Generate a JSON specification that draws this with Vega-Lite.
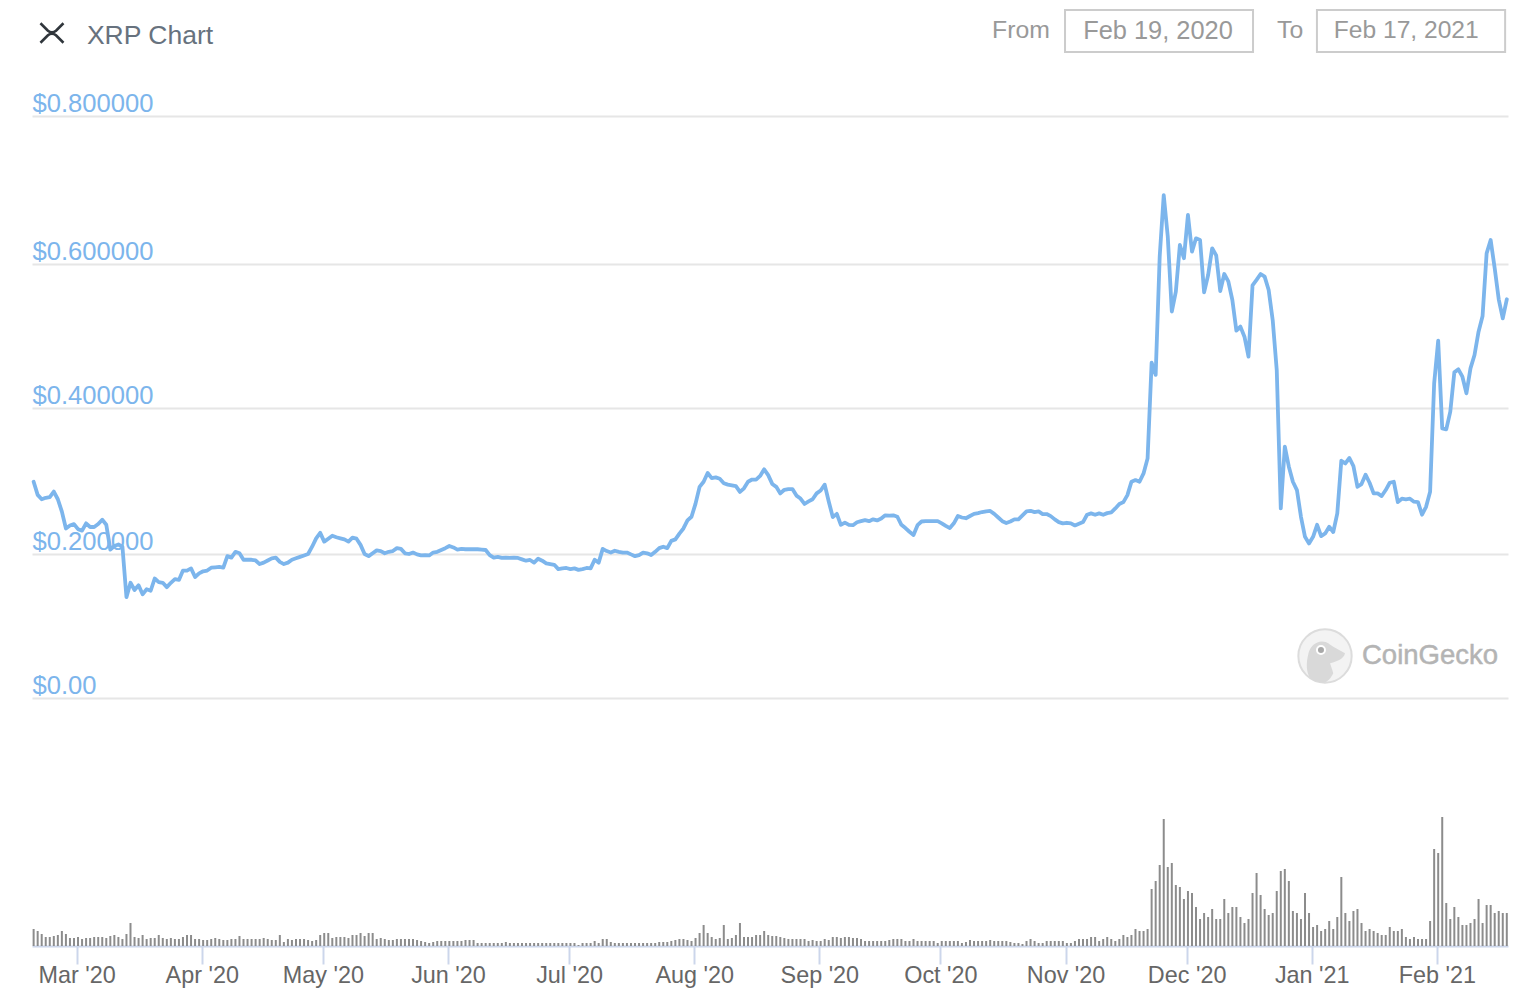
{"$schema":"https://vega.github.io/schema/vega-lite/v6.json","width":1476,"height":946,"autosize":"none","padding":{"left":32,"top":0,"right":30,"bottom":52},"background":"white","config":{"view":{"stroke":null},"font":"Liberation Sans","scale":{"continuousPadding":0}},
"data":{"values":[
{"date":"2020-02-19T08:00Z","price":0.299,"volume":17},{"date":"2020-02-20T08:00Z","price":0.281,"volume":15},{"date":"2020-02-21T08:00Z","price":0.275,"volume":12},{"date":"2020-02-22T08:00Z","price":0.277,"volume":9},{"date":"2020-02-23T08:00Z","price":0.278,"volume":9},{"date":"2020-02-24T08:00Z","price":0.2855,"volume":10},{"date":"2020-02-25T08:00Z","price":0.275,"volume":11},{"date":"2020-02-26T08:00Z","price":0.258,"volume":15},{"date":"2020-02-27T08:00Z","price":0.235,"volume":12},{"date":"2020-02-28T08:00Z","price":0.239,"volume":8},{"date":"2020-02-29T08:00Z","price":0.241,"volume":8},
{"date":"2020-03-01T08:00Z","price":0.234,"volume":9},{"date":"2020-03-02T08:00Z","price":0.232,"volume":7},{"date":"2020-03-03T08:00Z","price":0.242,"volume":8},{"date":"2020-03-04T08:00Z","price":0.237,"volume":8},{"date":"2020-03-05T08:00Z","price":0.237,"volume":9},{"date":"2020-03-06T08:00Z","price":0.241,"volume":9},{"date":"2020-03-07T08:00Z","price":0.247,"volume":9},{"date":"2020-03-08T08:00Z","price":0.24,"volume":8},{"date":"2020-03-09T08:00Z","price":0.206,"volume":10},{"date":"2020-03-10T08:00Z","price":0.211,"volume":11},{"date":"2020-03-11T08:00Z","price":0.213,"volume":9},{"date":"2020-03-12T08:00Z","price":0.21,"volume":7},{"date":"2020-03-13T08:00Z","price":0.14,"volume":12},{"date":"2020-03-14T08:00Z","price":0.16,"volume":23},{"date":"2020-03-15T08:00Z","price":0.15,"volume":9},{"date":"2020-03-16T08:00Z","price":0.1565,"volume":8},{"date":"2020-03-17T08:00Z","price":0.144,"volume":11},{"date":"2020-03-18T08:00Z","price":0.151,"volume":7},{"date":"2020-03-19T08:00Z","price":0.149,"volume":8},{"date":"2020-03-20T08:00Z","price":0.166,"volume":8},{"date":"2020-03-21T08:00Z","price":0.161,"volume":11},{"date":"2020-03-22T08:00Z","price":0.16,"volume":8},{"date":"2020-03-23T08:00Z","price":0.154,"volume":7},{"date":"2020-03-24T08:00Z","price":0.16,"volume":8},{"date":"2020-03-25T08:00Z","price":0.165,"volume":7},{"date":"2020-03-26T08:00Z","price":0.164,"volume":7},{"date":"2020-03-27T08:00Z","price":0.177,"volume":9},{"date":"2020-03-28T08:00Z","price":0.177,"volume":11},{"date":"2020-03-29T08:00Z","price":0.18,"volume":11},{"date":"2020-03-30T08:00Z","price":0.168,"volume":7},{"date":"2020-03-31T08:00Z","price":0.173,"volume":7},
{"date":"2020-04-01T08:00Z","price":0.176,"volume":6},{"date":"2020-04-02T08:00Z","price":0.177,"volume":6},{"date":"2020-04-03T08:00Z","price":0.181,"volume":7},{"date":"2020-04-04T08:00Z","price":0.1815,"volume":8},{"date":"2020-04-05T08:00Z","price":0.182,"volume":7},{"date":"2020-04-06T08:00Z","price":0.181,"volume":6},{"date":"2020-04-07T08:00Z","price":0.197,"volume":6},{"date":"2020-04-08T08:00Z","price":0.195,"volume":7},{"date":"2020-04-09T08:00Z","price":0.203,"volume":7},{"date":"2020-04-10T08:00Z","price":0.201,"volume":10},{"date":"2020-04-11T08:00Z","price":0.192,"volume":7},{"date":"2020-04-12T08:00Z","price":0.192,"volume":7},{"date":"2020-04-13T08:00Z","price":0.192,"volume":7},{"date":"2020-04-14T08:00Z","price":0.191,"volume":7},{"date":"2020-04-15T08:00Z","price":0.186,"volume":7},{"date":"2020-04-16T08:00Z","price":0.188,"volume":8},{"date":"2020-04-17T08:00Z","price":0.191,"volume":7},{"date":"2020-04-18T08:00Z","price":0.194,"volume":6},{"date":"2020-04-19T08:00Z","price":0.195,"volume":6},{"date":"2020-04-20T08:00Z","price":0.189,"volume":11},{"date":"2020-04-21T08:00Z","price":0.186,"volume":4},{"date":"2020-04-22T08:00Z","price":0.188,"volume":7},{"date":"2020-04-23T08:00Z","price":0.192,"volume":6},{"date":"2020-04-24T08:00Z","price":0.194,"volume":7},{"date":"2020-04-25T08:00Z","price":0.196,"volume":7},{"date":"2020-04-26T08:00Z","price":0.198,"volume":7},{"date":"2020-04-27T08:00Z","price":0.2,"volume":6},{"date":"2020-04-28T08:00Z","price":0.21,"volume":5},{"date":"2020-04-29T08:00Z","price":0.2215,"volume":6},{"date":"2020-04-30T08:00Z","price":0.229,"volume":11},
{"date":"2020-05-01T08:00Z","price":0.217,"volume":13},{"date":"2020-05-02T08:00Z","price":0.221,"volume":13},{"date":"2020-05-03T08:00Z","price":0.225,"volume":8},{"date":"2020-05-04T08:00Z","price":0.223,"volume":9},{"date":"2020-05-05T08:00Z","price":0.2215,"volume":9},{"date":"2020-05-06T08:00Z","price":0.22,"volume":9},{"date":"2020-05-07T08:00Z","price":0.217,"volume":8},{"date":"2020-05-08T08:00Z","price":0.2225,"volume":11},{"date":"2020-05-09T08:00Z","price":0.221,"volume":11},{"date":"2020-05-10T08:00Z","price":0.2125,"volume":13},{"date":"2020-05-11T08:00Z","price":0.2,"volume":10},{"date":"2020-05-12T08:00Z","price":0.197,"volume":13},{"date":"2020-05-13T08:00Z","price":0.201,"volume":13},{"date":"2020-05-14T08:00Z","price":0.205,"volume":7},{"date":"2020-05-15T08:00Z","price":0.204,"volume":8},{"date":"2020-05-16T08:00Z","price":0.201,"volume":7},{"date":"2020-05-17T08:00Z","price":0.203,"volume":6},{"date":"2020-05-18T08:00Z","price":0.204,"volume":6},{"date":"2020-05-19T08:00Z","price":0.208,"volume":7},{"date":"2020-05-20T08:00Z","price":0.207,"volume":7},{"date":"2020-05-21T08:00Z","price":0.201,"volume":7},{"date":"2020-05-22T08:00Z","price":0.2,"volume":7},{"date":"2020-05-23T08:00Z","price":0.202,"volume":7},{"date":"2020-05-24T08:00Z","price":0.1995,"volume":6},{"date":"2020-05-25T08:00Z","price":0.198,"volume":5},{"date":"2020-05-26T08:00Z","price":0.1985,"volume":4},{"date":"2020-05-27T08:00Z","price":0.198,"volume":3},{"date":"2020-05-28T08:00Z","price":0.202,"volume":4},{"date":"2020-05-29T08:00Z","price":0.203,"volume":5},{"date":"2020-05-30T08:00Z","price":0.2055,"volume":5},{"date":"2020-05-31T08:00Z","price":0.208,"volume":5},
{"date":"2020-06-01T08:00Z","price":0.211,"volume":5},{"date":"2020-06-02T08:00Z","price":0.209,"volume":5},{"date":"2020-06-03T08:00Z","price":0.206,"volume":5},{"date":"2020-06-04T08:00Z","price":0.207,"volume":5},{"date":"2020-06-05T08:00Z","price":0.2065,"volume":6},{"date":"2020-06-06T08:00Z","price":0.2065,"volume":6},{"date":"2020-06-07T08:00Z","price":0.2065,"volume":6},{"date":"2020-06-08T08:00Z","price":0.2065,"volume":3},{"date":"2020-06-09T08:00Z","price":0.206,"volume":3},{"date":"2020-06-10T08:00Z","price":0.2055,"volume":3},{"date":"2020-06-11T08:00Z","price":0.1985,"volume":3},{"date":"2020-06-12T08:00Z","price":0.195,"volume":3},{"date":"2020-06-13T08:00Z","price":0.196,"volume":3},{"date":"2020-06-14T08:00Z","price":0.1945,"volume":3},{"date":"2020-06-15T08:00Z","price":0.195,"volume":4},{"date":"2020-06-16T08:00Z","price":0.1945,"volume":3},{"date":"2020-06-17T08:00Z","price":0.195,"volume":3},{"date":"2020-06-18T08:00Z","price":0.1945,"volume":3},{"date":"2020-06-19T08:00Z","price":0.1926,"volume":3},{"date":"2020-06-20T08:00Z","price":0.1907,"volume":3},{"date":"2020-06-21T08:00Z","price":0.1917,"volume":3},{"date":"2020-06-22T08:00Z","price":0.188,"volume":3},{"date":"2020-06-23T08:00Z","price":0.1935,"volume":3},{"date":"2020-06-24T08:00Z","price":0.1907,"volume":3},{"date":"2020-06-25T08:00Z","price":0.187,"volume":3},{"date":"2020-06-26T08:00Z","price":0.186,"volume":3},{"date":"2020-06-27T08:00Z","price":0.185,"volume":3},{"date":"2020-06-28T08:00Z","price":0.179,"volume":3},{"date":"2020-06-29T08:00Z","price":0.18,"volume":3},{"date":"2020-06-30T08:00Z","price":0.1806,"volume":3},
{"date":"2020-07-01T08:00Z","price":0.179,"volume":3},{"date":"2020-07-02T08:00Z","price":0.18,"volume":3},{"date":"2020-07-03T08:00Z","price":0.178,"volume":1},{"date":"2020-07-04T08:00Z","price":0.179,"volume":3},{"date":"2020-07-05T08:00Z","price":0.1806,"volume":3},{"date":"2020-07-06T08:00Z","price":0.18,"volume":3},{"date":"2020-07-07T08:00Z","price":0.192,"volume":5},{"date":"2020-07-08T08:00Z","price":0.188,"volume":3},{"date":"2020-07-09T08:00Z","price":0.207,"volume":7},{"date":"2020-07-10T08:00Z","price":0.204,"volume":7},{"date":"2020-07-11T08:00Z","price":0.202,"volume":4},{"date":"2020-07-12T08:00Z","price":0.2045,"volume":3},{"date":"2020-07-13T08:00Z","price":0.203,"volume":3},{"date":"2020-07-14T08:00Z","price":0.202,"volume":3},{"date":"2020-07-15T08:00Z","price":0.202,"volume":3},{"date":"2020-07-16T08:00Z","price":0.1995,"volume":3},{"date":"2020-07-17T08:00Z","price":0.197,"volume":3},{"date":"2020-07-18T08:00Z","price":0.1985,"volume":3},{"date":"2020-07-19T08:00Z","price":0.202,"volume":3},{"date":"2020-07-20T08:00Z","price":0.201,"volume":3},{"date":"2020-07-21T08:00Z","price":0.1985,"volume":3},{"date":"2020-07-22T08:00Z","price":0.203,"volume":3},{"date":"2020-07-23T08:00Z","price":0.208,"volume":4},{"date":"2020-07-24T08:00Z","price":0.21,"volume":4},{"date":"2020-07-25T08:00Z","price":0.208,"volume":4},{"date":"2020-07-26T08:00Z","price":0.218,"volume":5},{"date":"2020-07-27T08:00Z","price":0.22,"volume":6},{"date":"2020-07-28T08:00Z","price":0.228,"volume":7},{"date":"2020-07-29T08:00Z","price":0.235,"volume":7},{"date":"2020-07-30T08:00Z","price":0.246,"volume":6},{"date":"2020-07-31T08:00Z","price":0.251,"volume":5},
{"date":"2020-08-01T08:00Z","price":0.269,"volume":8},{"date":"2020-08-02T08:00Z","price":0.292,"volume":13},{"date":"2020-08-03T08:00Z","price":0.299,"volume":21},{"date":"2020-08-04T08:00Z","price":0.311,"volume":13},{"date":"2020-08-05T08:00Z","price":0.304,"volume":9},{"date":"2020-08-06T08:00Z","price":0.305,"volume":7},{"date":"2020-08-07T08:00Z","price":0.303,"volume":8},{"date":"2020-08-08T08:00Z","price":0.297,"volume":21},{"date":"2020-08-09T08:00Z","price":0.295,"volume":7},{"date":"2020-08-10T08:00Z","price":0.294,"volume":8},{"date":"2020-08-11T08:00Z","price":0.293,"volume":11},{"date":"2020-08-12T08:00Z","price":0.285,"volume":23},{"date":"2020-08-13T08:00Z","price":0.29,"volume":9},{"date":"2020-08-14T08:00Z","price":0.299,"volume":9},{"date":"2020-08-15T08:00Z","price":0.302,"volume":9},{"date":"2020-08-16T08:00Z","price":0.302,"volume":11},{"date":"2020-08-17T08:00Z","price":0.307,"volume":11},{"date":"2020-08-18T08:00Z","price":0.316,"volume":15},{"date":"2020-08-19T08:00Z","price":0.308,"volume":11},{"date":"2020-08-20T08:00Z","price":0.296,"volume":10},{"date":"2020-08-21T08:00Z","price":0.292,"volume":10},{"date":"2020-08-22T08:00Z","price":0.283,"volume":9},{"date":"2020-08-23T08:00Z","price":0.288,"volume":8},{"date":"2020-08-24T08:00Z","price":0.289,"volume":7},{"date":"2020-08-25T08:00Z","price":0.289,"volume":7},{"date":"2020-08-26T08:00Z","price":0.28,"volume":7},{"date":"2020-08-27T08:00Z","price":0.276,"volume":7},{"date":"2020-08-28T08:00Z","price":0.2685,"volume":7},{"date":"2020-08-29T08:00Z","price":0.272,"volume":5},{"date":"2020-08-30T08:00Z","price":0.275,"volume":6},{"date":"2020-08-31T08:00Z","price":0.283,"volume":5},
{"date":"2020-09-01T08:00Z","price":0.287,"volume":5},{"date":"2020-09-02T08:00Z","price":0.295,"volume":7},{"date":"2020-09-03T08:00Z","price":0.272,"volume":6},{"date":"2020-09-04T08:00Z","price":0.2505,"volume":9},{"date":"2020-09-05T08:00Z","price":0.255,"volume":9},{"date":"2020-09-06T08:00Z","price":0.24,"volume":8},{"date":"2020-09-07T08:00Z","price":0.243,"volume":9},{"date":"2020-09-08T08:00Z","price":0.24,"volume":9},{"date":"2020-09-09T08:00Z","price":0.2395,"volume":8},{"date":"2020-09-10T08:00Z","price":0.2435,"volume":8},{"date":"2020-09-11T08:00Z","price":0.245,"volume":7},{"date":"2020-09-12T08:00Z","price":0.2465,"volume":5},{"date":"2020-09-13T08:00Z","price":0.245,"volume":5},{"date":"2020-09-14T08:00Z","price":0.2475,"volume":5},{"date":"2020-09-15T08:00Z","price":0.246,"volume":5},{"date":"2020-09-16T08:00Z","price":0.2485,"volume":5},{"date":"2020-09-17T08:00Z","price":0.253,"volume":5},{"date":"2020-09-18T08:00Z","price":0.2525,"volume":6},{"date":"2020-09-19T08:00Z","price":0.253,"volume":7},{"date":"2020-09-20T08:00Z","price":0.251,"volume":7},{"date":"2020-09-21T08:00Z","price":0.24,"volume":7},{"date":"2020-09-22T08:00Z","price":0.2355,"volume":5},{"date":"2020-09-23T08:00Z","price":0.2305,"volume":5},{"date":"2020-09-24T08:00Z","price":0.226,"volume":7},{"date":"2020-09-25T08:00Z","price":0.2395,"volume":5},{"date":"2020-09-26T08:00Z","price":0.2445,"volume":5},{"date":"2020-09-27T08:00Z","price":0.245,"volume":5},{"date":"2020-09-28T08:00Z","price":0.245,"volume":5},{"date":"2020-09-29T08:00Z","price":0.245,"volume":5},{"date":"2020-09-30T08:00Z","price":0.245,"volume":3},
{"date":"2020-10-01T08:00Z","price":0.242,"volume":5},{"date":"2020-10-02T08:00Z","price":0.2385,"volume":5},{"date":"2020-10-03T08:00Z","price":0.2355,"volume":5},{"date":"2020-10-04T08:00Z","price":0.242,"volume":5},{"date":"2020-10-05T08:00Z","price":0.252,"volume":5},{"date":"2020-10-06T08:00Z","price":0.25,"volume":3},{"date":"2020-10-07T08:00Z","price":0.249,"volume":4},{"date":"2020-10-08T08:00Z","price":0.252,"volume":6},{"date":"2020-10-09T08:00Z","price":0.255,"volume":5},{"date":"2020-10-10T08:00Z","price":0.256,"volume":5},{"date":"2020-10-11T08:00Z","price":0.2575,"volume":5},{"date":"2020-10-12T08:00Z","price":0.2585,"volume":5},{"date":"2020-10-13T08:00Z","price":0.259,"volume":6},{"date":"2020-10-14T08:00Z","price":0.255,"volume":5},{"date":"2020-10-15T08:00Z","price":0.25,"volume":5},{"date":"2020-10-16T08:00Z","price":0.245,"volume":5},{"date":"2020-10-17T08:00Z","price":0.2425,"volume":5},{"date":"2020-10-18T08:00Z","price":0.2445,"volume":4},{"date":"2020-10-19T08:00Z","price":0.2475,"volume":3},{"date":"2020-10-20T08:00Z","price":0.2474,"volume":3},{"date":"2020-10-21T08:00Z","price":0.2528,"volume":2},{"date":"2020-10-22T08:00Z","price":0.2583,"volume":5},{"date":"2020-10-23T08:00Z","price":0.2592,"volume":7},{"date":"2020-10-24T08:00Z","price":0.2574,"volume":5},{"date":"2020-10-25T08:00Z","price":0.2583,"volume":3},{"date":"2020-10-26T08:00Z","price":0.2547,"volume":3},{"date":"2020-10-27T08:00Z","price":0.2547,"volume":5},{"date":"2020-10-28T08:00Z","price":0.2519,"volume":5},{"date":"2020-10-29T08:00Z","price":0.2474,"volume":5},{"date":"2020-10-30T08:00Z","price":0.2437,"volume":5},{"date":"2020-10-31T08:00Z","price":0.2419,"volume":5},
{"date":"2020-11-01T08:00Z","price":0.2428,"volume":3},{"date":"2020-11-02T08:00Z","price":0.2419,"volume":3},{"date":"2020-11-03T08:00Z","price":0.2391,"volume":5},{"date":"2020-11-04T08:00Z","price":0.2414,"volume":7},{"date":"2020-11-05T08:00Z","price":0.2437,"volume":7},{"date":"2020-11-06T08:00Z","price":0.2538,"volume":7},{"date":"2020-11-07T08:00Z","price":0.2556,"volume":9},{"date":"2020-11-08T08:00Z","price":0.2538,"volume":9},{"date":"2020-11-09T08:00Z","price":0.2556,"volume":5},{"date":"2020-11-10T08:00Z","price":0.2538,"volume":7},{"date":"2020-11-11T08:00Z","price":0.256,"volume":9},{"date":"2020-11-12T08:00Z","price":0.257,"volume":7},{"date":"2020-11-13T08:00Z","price":0.2624,"volume":5},{"date":"2020-11-14T08:00Z","price":0.2684,"volume":7},{"date":"2020-11-15T08:00Z","price":0.2711,"volume":11},{"date":"2020-11-16T08:00Z","price":0.2807,"volume":9},{"date":"2020-11-17T08:00Z","price":0.299,"volume":11},{"date":"2020-11-18T08:00Z","price":0.3013,"volume":17},{"date":"2020-11-19T08:00Z","price":0.299,"volume":15},{"date":"2020-11-20T08:00Z","price":0.3104,"volume":15},{"date":"2020-11-21T08:00Z","price":0.331,"volume":17},{"date":"2020-11-22T08:00Z","price":0.463,"volume":57},{"date":"2020-11-23T08:00Z","price":0.446,"volume":65},{"date":"2020-11-24T08:00Z","price":0.61,"volume":81},{"date":"2020-11-25T08:00Z","price":0.693,"volume":127},{"date":"2020-11-26T08:00Z","price":0.637,"volume":79},{"date":"2020-11-27T08:00Z","price":0.534,"volume":83},{"date":"2020-11-28T08:00Z","price":0.5616,"volume":61},{"date":"2020-11-29T08:00Z","price":0.6257,"volume":59},{"date":"2020-11-30T08:00Z","price":0.6077,"volume":47},
{"date":"2020-12-01T08:00Z","price":0.6662,"volume":55},{"date":"2020-12-02T08:00Z","price":0.6167,"volume":53},{"date":"2020-12-03T08:00Z","price":0.6347,"volume":39},{"date":"2020-12-04T08:00Z","price":0.6324,"volume":27},{"date":"2020-12-05T08:00Z","price":0.5606,"volume":33},{"date":"2020-12-06T08:00Z","price":0.5847,"volume":29},{"date":"2020-12-07T08:00Z","price":0.6212,"volume":37},{"date":"2020-12-08T08:00Z","price":0.6117,"volume":27},{"date":"2020-12-09T08:00Z","price":0.5625,"volume":27},{"date":"2020-12-10T08:00Z","price":0.5861,"volume":47},{"date":"2020-12-11T08:00Z","price":0.5759,"volume":33},{"date":"2020-12-12T08:00Z","price":0.55,"volume":39},{"date":"2020-12-13T08:00Z","price":0.5074,"volume":39},{"date":"2020-12-14T08:00Z","price":0.513,"volume":29},{"date":"2020-12-15T08:00Z","price":0.499,"volume":23},{"date":"2020-12-16T08:00Z","price":0.4713,"volume":27},{"date":"2020-12-17T08:00Z","price":0.5704,"volume":53},{"date":"2020-12-18T08:00Z","price":0.578,"volume":73},{"date":"2020-12-19T08:00Z","price":0.5861,"volume":51},{"date":"2020-12-20T08:00Z","price":0.5824,"volume":37},{"date":"2020-12-21T08:00Z","price":0.5639,"volume":31},{"date":"2020-12-22T08:00Z","price":0.522,"volume":33},{"date":"2020-12-23T08:00Z","price":0.4527,"volume":55},{"date":"2020-12-24T08:00Z","price":0.2624,"volume":75},{"date":"2020-12-25T08:00Z","price":0.347,"volume":77},{"date":"2020-12-26T08:00Z","price":0.3196,"volume":65},{"date":"2020-12-27T08:00Z","price":0.299,"volume":35},{"date":"2020-12-28T08:00Z","price":0.2876,"volume":33},{"date":"2020-12-29T08:00Z","price":0.251,"volume":27},{"date":"2020-12-30T08:00Z","price":0.2236,"volume":53},{"date":"2020-12-31T08:00Z","price":0.2145,"volume":33},
{"date":"2021-01-01T08:00Z","price":0.2236,"volume":19},{"date":"2021-01-02T08:00Z","price":0.24,"volume":21},{"date":"2021-01-03T08:00Z","price":0.2245,"volume":15},{"date":"2021-01-04T08:00Z","price":0.2282,"volume":17},{"date":"2021-01-05T08:00Z","price":0.2373,"volume":25},{"date":"2021-01-06T08:00Z","price":0.23,"volume":17},{"date":"2021-01-07T08:00Z","price":0.2556,"volume":29},{"date":"2021-01-08T08:00Z","price":0.3278,"volume":69},{"date":"2021-01-09T08:00Z","price":0.3241,"volume":33},{"date":"2021-01-10T08:00Z","price":0.3315,"volume":25},{"date":"2021-01-11T08:00Z","price":0.3205,"volume":35},{"date":"2021-01-12T08:00Z","price":0.2921,"volume":37},{"date":"2021-01-13T08:00Z","price":0.2958,"volume":23},{"date":"2021-01-14T08:00Z","price":0.3086,"volume":15},{"date":"2021-01-15T08:00Z","price":0.2976,"volume":17},{"date":"2021-01-16T08:00Z","price":0.283,"volume":15},{"date":"2021-01-17T08:00Z","price":0.283,"volume":13},{"date":"2021-01-18T08:00Z","price":0.2794,"volume":11},{"date":"2021-01-19T08:00Z","price":0.2876,"volume":11},{"date":"2021-01-20T08:00Z","price":0.2976,"volume":19},{"date":"2021-01-21T08:00Z","price":0.299,"volume":15},{"date":"2021-01-22T08:00Z","price":0.2711,"volume":15},{"date":"2021-01-23T08:00Z","price":0.2757,"volume":17},{"date":"2021-01-24T08:00Z","price":0.2748,"volume":9},{"date":"2021-01-25T08:00Z","price":0.2757,"volume":7},{"date":"2021-01-26T08:00Z","price":0.2716,"volume":9},{"date":"2021-01-27T08:00Z","price":0.2711,"volume":7},{"date":"2021-01-28T08:00Z","price":0.2538,"volume":7},{"date":"2021-01-29T08:00Z","price":0.2647,"volume":7},{"date":"2021-01-30T08:00Z","price":0.2853,"volume":25},{"date":"2021-01-31T08:00Z","price":0.434,"volume":97},
{"date":"2021-02-01T08:00Z","price":0.4935,"volume":93},{"date":"2021-02-02T08:00Z","price":0.3721,"volume":129},{"date":"2021-02-03T08:00Z","price":0.3707,"volume":43},{"date":"2021-02-04T08:00Z","price":0.395,"volume":27},{"date":"2021-02-05T08:00Z","price":0.4495,"volume":39},{"date":"2021-02-06T08:00Z","price":0.4537,"volume":29},{"date":"2021-02-07T08:00Z","price":0.4435,"volume":21},{"date":"2021-02-08T08:00Z","price":0.4204,"volume":21},{"date":"2021-02-09T08:00Z","price":0.4551,"volume":23},{"date":"2021-02-10T08:00Z","price":0.4736,"volume":27},{"date":"2021-02-11T08:00Z","price":0.506,"volume":47},{"date":"2021-02-12T08:00Z","price":0.5278,"volume":23},{"date":"2021-02-13T08:00Z","price":0.6144,"volume":41},{"date":"2021-02-14T08:00Z","price":0.6324,"volume":41},{"date":"2021-02-15T08:00Z","price":0.594,"volume":33},{"date":"2021-02-16T08:00Z","price":0.551,"volume":35},{"date":"2021-02-17T08:00Z","price":0.5245,"volume":33},{"date":"2021-02-18T08:00Z","price":0.551,"volume":33}
]},
"encoding":{"x":{"type":"temporal","scale":{"type":"utc","nice":false,"padding":0,"domain":[{"year":2020,"month":2,"date":18,"hours":22,"minutes":19,"utc":true},{"year":2021,"month":2,"date":18,"hours":15,"minutes":7,"utc":true}]},"axis":{"title":null,"grid":false,"values":[{"year":2020,"month":3,"date":1,"utc":true},{"year":2020,"month":4,"date":1,"utc":true},{"year":2020,"month":5,"date":1,"utc":true},{"year":2020,"month":6,"date":1,"utc":true},{"year":2020,"month":7,"date":1,"utc":true},{"year":2020,"month":8,"date":1,"utc":true},{"year":2020,"month":9,"date":1,"utc":true},{"year":2020,"month":10,"date":1,"utc":true},{"year":2020,"month":11,"date":1,"utc":true},{"year":2020,"month":12,"date":1,"utc":true},{"year":2021,"month":1,"date":1,"utc":true},{"year":2021,"month":2,"date":1,"utc":true}],"labelExpr":"utcFormat(datum.value, \"%b '%y\")","labelFontSize":23.4,"labelFont":"Liberation Sans","labelColor":"#666666","labelAlign":"center","labelBaseline":"middle","labelPadding":11,"labelFlush":false,"labelOverlap":false,"labelBound":false,"tickSize":18,"tickWidth":2,"tickColor":"#ccd6eb","domainColor":"#ccd6eb","domainWidth":2,"tickBand":"center"}}},
"layer":[
{"layer":[
{"mark":{"type":"line","color":"#7cb5ec","strokeWidth":3.8,"strokeJoin":"round","strokeCap":"round"},"encoding":{"x":{"field":"date","type":"temporal"},"y":{"field":"price","type":"quantitative","scale":{"nice":false,"domain":[0,0.2,0.4,0.6,0.8,0.96],"range":[698,554,408,264,116,0]},"axis":{"title":null,"values":[0,0.2,0.4,0.6,0.8],"labelExpr":"datum.value==0?'$0.00':'$'+format(datum.value,'.6f')","domain":false,"ticks":false,"tickSize":0,"grid":true,"gridColor":"#e6e6e6","gridWidth":2,"labelAlign":"left","labelBaseline":"alphabetic","labelPadding":0,"labelOffset":-4.5,"labelColor":"#7cb5ec","labelFontSize":25.6,"labelFont":"Liberation Sans","labelBound":false,"labelFlush":false,"labelOverlap":false}}}},
{"data":{"values":[{}]},"mark":{"type":"point","filled":true,"size":2844,"shape":"circle","fill":"#f3f3f3","stroke":"#dcdcdc","strokeWidth":2,"opacity":1},"encoding":{"x":{"datum":{"year":2021,"month":1,"date":4,"hours":7,"utc":true},"type":"temporal"},"y":{"datum":0.0583}}},
{"data":{"values":[{}]},"mark":{"type":"point","filled":true,"size":2844,"shape":"M-0.62,-0.1 C-0.55,-0.35 -0.35,-0.54 -0.12,-0.54 C0.1,-0.54 0.2,-0.4 0.31,-0.35 L0.75,-0.1 C0.7,0.1 0.5,0.2 0.19,0.27 C0.25,0.45 0.3,0.6 0.31,0.65 C0.2,0.85 0.1,0.98 -0.06,1 C-0.3,0.98 -0.5,0.9 -0.56,0.84 C-0.7,0.6 -0.72,0.3 -0.62,-0.1 Z","fill":"#d9d9d9","opacity":1,"strokeWidth":0},"encoding":{"x":{"datum":{"year":2021,"month":1,"date":4,"hours":7,"utc":true},"type":"temporal"},"y":{"datum":0.0583}}},
{"data":{"values":[{}]},"mark":{"type":"point","filled":true,"size":64,"shape":"circle","fill":"#a8a8a8","stroke":"#ffffff","strokeWidth":2,"opacity":1},"encoding":{"x":{"datum":{"year":2021,"month":1,"date":3,"hours":7,"utc":true},"type":"temporal"},"y":{"datum":0.0667}}},
{"data":{"values":[{}]},"mark":{"type":"text","text":"CoinGecko","align":"left","baseline":"middle","fontSize":27.5,"font":"Liberation Sans","fill":"#b4b4b4","stroke":"#b4b4b4","strokeWidth":0.5},"encoding":{"x":{"datum":{"year":2021,"month":1,"date":13,"hours":11,"utc":true},"type":"temporal"},"y":{"datum":0.0583}}},
{"data":{"values":[{}]},"mark":{"type":"point","filled":false,"size":529,"shape":"M-1,-0.85 L-0.35,-0.2 Q0,0.1 0.35,-0.2 L1,-0.85 M-1,0.85 L-0.35,0.2 Q0,-0.1 0.35,0.2 L1,0.85","stroke":"#30363c","strokeWidth":2.6,"opacity":1},"encoding":{"x":{"datum":{"year":2020,"month":2,"date":23,"hours":21,"utc":true},"type":"temporal"},"y":{"datum":0.9145}}},
{"data":{"values":[{}]},"mark":{"type":"text","text":"XRP Chart","align":"left","baseline":"middle","fontSize":26.5,"font":"Liberation Sans","fill":"#67727e"},"encoding":{"x":{"datum":{"year":2020,"month":3,"date":3,"hours":13,"utc":true},"type":"temporal"},"y":{"datum":0.9103}}},
{"data":{"values":[{}]},"mark":{"type":"text","text":"From","align":"left","baseline":"middle","fontSize":24.8,"font":"Liberation Sans","fill":"#999999"},"encoding":{"x":{"datum":{"year":2020,"month":10,"date":13,"hours":19,"utc":true},"type":"temporal"},"y":{"datum":0.9172}}},
{"data":{"values":[{}]},"mark":{"type":"text","text":"To","align":"left","baseline":"middle","fontSize":24.8,"font":"Liberation Sans","fill":"#999999"},"encoding":{"x":{"datum":{"year":2020,"month":12,"date":23,"hours":10,"utc":true},"type":"temporal"},"y":{"datum":0.9172}}},
{"data":{"values":[{}]},"mark":{"type":"rect","fill":"#ffffff","stroke":"#cccccc","strokeWidth":2},"encoding":{"x":{"datum":{"year":2020,"month":10,"date":31,"hours":21,"utc":true},"type":"temporal"},"x2":{"datum":{"year":2020,"month":12,"date":17,"hours":11,"utc":true}},"y":{"datum":0.9462},"y2":{"datum":0.8883}}},
{"data":{"values":[{}]},"mark":{"type":"rect","fill":"#ffffff","stroke":"#cccccc","strokeWidth":2},"encoding":{"x":{"datum":{"year":2021,"month":1,"date":2,"hours":7,"utc":true},"type":"temporal"},"x2":{"datum":{"year":2021,"month":2,"date":17,"hours":22,"utc":true}},"y":{"datum":0.9462},"y2":{"datum":0.8883}}},
{"data":{"values":[{}]},"mark":{"type":"text","text":"Feb 19, 2020","align":"center","baseline":"middle","fontSize":25.4,"font":"Liberation Sans","fill":"#999999"},"encoding":{"x":{"datum":{"year":2020,"month":11,"date":23,"hours":22,"utc":true},"type":"temporal"},"y":{"datum":0.9172}}},
{"data":{"values":[{}]},"mark":{"type":"text","text":"Feb 17, 2021","align":"center","baseline":"middle","fontSize":24.6,"font":"Liberation Sans","fill":"#999999"},"encoding":{"x":{"datum":{"year":2021,"month":1,"date":24,"hours":10,"utc":true},"type":"temporal"},"y":{"datum":0.9172}}}
]},
{"mark":{"type":"bar","color":"#8c8c8c","size":2},"encoding":{"x":{"field":"date","type":"temporal"},"y":{"field":"volume","type":"quantitative","scale":{"nice":false,"domain":[0,130],"range":[946,816]},"axis":null}}}
],
"resolve":{"scale":{"y":"independent"}}}
